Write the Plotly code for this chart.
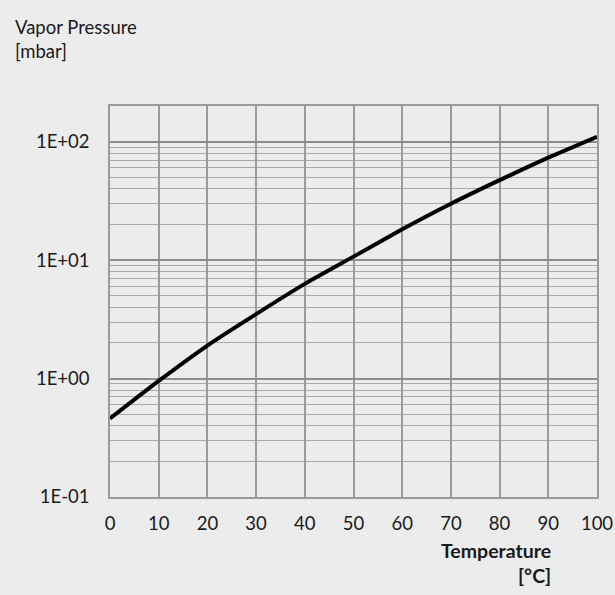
import plotly.graph_objects as go
import numpy as np

temperature = [0, 10, 20, 30, 40, 50, 60, 70, 80, 90, 100]
pressure = [0.46, 0.955, 1.9, 3.5, 6.3, 10.7, 18.2, 29.9, 47.3, 73.3, 110]

y_tickvals = [0.1, 1, 10, 100]
y_ticktext = ["1E-01", "1E+00", "1E+01", "1E+02"]
x_tickvals = list(range(0, 101, 10))
minor_vals = [k * 10.0 ** e for e in (-1, 0, 1) for k in range(2, 10)]

BG = "#ececec"
FONT = "Lato, 'Open Sans', sans-serif"
FS = 18.5

fig = go.Figure()
fig.add_trace(go.Scatter(x=temperature, y=pressure, mode="lines",
                         line=dict(color="black", width=4, shape="spline", smoothing=0.6),
                         hoverinfo="skip", showlegend=False))

fig.update_layout(
    width=615, height=595,
    margin=dict(l=110, r=18, t=106, b=98, autoexpand=False),
    paper_bgcolor=BG, plot_bgcolor=BG,
    font=dict(family=FONT, size=FS, color="#1a1a1a"),
    showlegend=False,
    xaxis=dict(range=[0, 100], tickvals=x_tickvals, showgrid=True, automargin=False,
               gridcolor="#9a9a9a", gridwidth=1.5, zeroline=False,
               showline=True, linecolor="#9a9a9a", linewidth=1.5, mirror=True,
               ticks="", ticklabelstandoff=9, tickfont=dict(size=FS)),
    yaxis=dict(type="log", range=[-1, np.log10(200)], tickvals=y_tickvals, automargin=False,
               ticktext=y_ticktext, showgrid=True, gridcolor="#8c8c8c", gridwidth=1.5,
               zeroline=False, showline=True, linecolor="#9a9a9a", linewidth=1.5,
               mirror=True, ticks="", ticklabelstandoff=15, tickfont=dict(size=FS),
               minor=dict(tickvals=minor_vals, showgrid=True, gridcolor="#a8a8a8",
                          gridwidth=1.2, ticks="")),
    annotations=[
        dict(text="Vapor Pressure<br>[mbar]", xref="paper", yref="paper",
             x=-0.199, y=1.236, xanchor="left", yanchor="top", align="left",
             showarrow=False, font=dict(size=FS, color="#1a1a1a")),
        dict(text="<b>Temperature</b><br><b>[°C]</b>", xref="paper", yref="paper",
             x=0.9097, y=-0.103, xanchor="right", yanchor="top", align="right",
             showarrow=False, font=dict(size=19.5, color="#1a1a1a")),
    ],
)

fig.write_html("out.html", config={"displayModeBar": False},
               post_script="document.body.style.margin='0';document.body.style.background='#ececec';")
